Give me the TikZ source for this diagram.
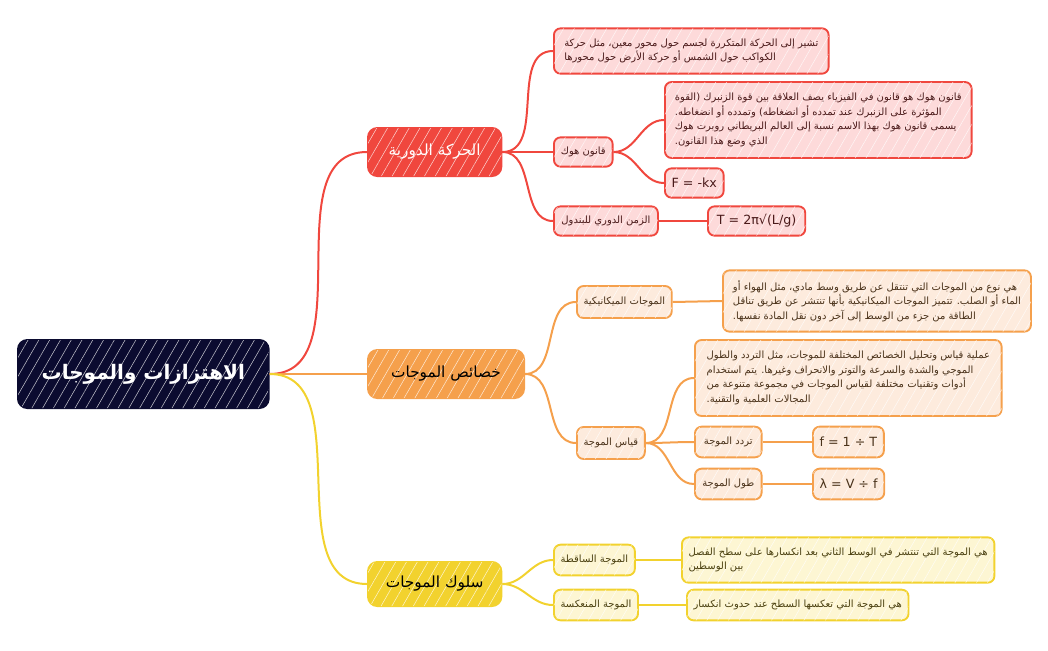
\documentclass[tikz,border=0pt]{standalone}
\usepackage{fontspec}
\setmainfont{DejaVu Sans}
\newfontfamily\arabicfont[Script=Arabic]{DejaVu Sans}
\TeXXeTstate=1
\usetikzlibrary{positioning, patterns.meta}

\definecolor{rootblue}{HTML}{0B0B30}
\definecolor{redmain}{HTML}{F0473E}
\definecolor{redlight}{HTML}{FDDADA}
\definecolor{redtext}{HTML}{4A1A1A}
\definecolor{orangemain}{HTML}{F5A04C}
\definecolor{orangelight}{HTML}{FDEBDD}
\definecolor{orangetext}{HTML}{4A321A}
\definecolor{yellowmain}{HTML}{F2D22E}
\definecolor{yellowlight}{HTML}{FDF6D3}
\definecolor{yellowtext}{HTML}{4A4010}

\newcommand{\artxt}[1]{{\arabicfont\beginR #1\endR}}

\tikzset{
  hatched/.style={postaction={pattern={Lines[angle=60,distance=7pt,line width=0.4pt]}, pattern color=white, opacity=0.75}},
  rootbox/.style={hatched, draw=rootblue, fill=rootblue, text=white, line width=1.5pt, rounded corners=7pt,
    anchor=west, minimum width=188pt, minimum height=51pt, font=\bfseries\fontsize{15}{18}\selectfont},
  mainbox/.style={hatched, line width=1.5pt, rounded corners=7pt, anchor=west, minimum height=36pt,
    font=\fontsize{11.5}{13}\selectfont},
  subbox/.style={hatched, line width=1.4pt, rounded corners=5pt, anchor=west, minimum height=22pt,
    inner xsep=5pt, font=\fontsize{7.5}{10}\selectfont},
  notebox/.style={subbox, align=left, inner ysep=5pt, font=\fontsize{7.5}{11}\selectfont},
  mathbox/.style={subbox, font=\fontsize{9.5}{11}\selectfont},
  redsub/.style={draw=redmain, fill=redlight, text=redtext},
  orangesub/.style={draw=orangemain, fill=orangelight, text=orangetext},
  yellowsub/.style={draw=yellowmain, fill=yellowlight, text=yellowtext},
  link/.style={line width=1.5pt}
}

\begin{document}
\begin{tikzpicture}[x=0.75pt,y=-0.75pt]
\useasboundingbox (0,0) rectangle (1048,650);

% centre
\node[rootbox] (root) at (17,374) {\artxt{الاهتزازات والموجات}};

% main topics
\node[mainbox, draw=redmain, fill=redmain, text=white, minimum width=100pt] (periodic) at (367,152) {\artxt{الحركة الدورية}};
\node[mainbox, draw=orangemain, fill=orangemain, text=black, minimum width=117pt] (props) at (367,374) {\artxt{خصائص الموجات}};
\node[mainbox, draw=yellowmain, fill=yellowmain, text=black, minimum width=100pt, minimum height=33pt] (behav) at (367,584) {\artxt{سلوك الموجات}};

% periodic motion
\node[notebox, redsub, minimum width=206pt, minimum height=34pt] (perdef) at (553,51) {\artxt{تشير إلى الحركة المتكررة لجسم حول محور معين، مثل حركة}\\\artxt{الكواكب حول الشمس أو حركة الأرض حول محورها}};
\node[subbox, redsub, minimum width=44pt] (hooke) at (553,152) {\artxt{قانون هوك}};
\node[notebox, redsub, minimum width=230pt, minimum height=57pt] (hookedef) at (664,120) {\artxt{قانون هوك هو قانون في الفيزياء يصف العلاقة بين قوة الزنبرك (القوة}\\\artxt{المؤثرة على الزنبرك عند تمدده أو انضغاطه) وتمدده أو انضغاطه.}\\\artxt{يسمى قانون هوك بهذا الاسم نسبة إلى العالم البريطاني روبرت هوك}\\\artxt{الذي وضع هذا القانون.}};
\node[mathbox, redsub, minimum width=42pt] (hookeeq) at (664,183) {F = -kx};
\node[subbox, redsub, minimum width=78pt] (pend) at (553,221) {\artxt{الزمن الدوري للبندول}};
\node[mathbox, redsub, minimum width=73pt] (pendeq) at (707,221) {T = 2π√(L/g)};

% wave properties
\node[subbox, orangesub, minimum width=71pt, minimum height=24pt] (mech) at (576,302) {\artxt{الموجات الميكانيكية}};
\node[notebox, orangesub, minimum width=231pt, minimum height=46pt] (mechdef) at (722,301) {\artxt{هي نوع من الموجات التي تنتقل عن طريق وسط مادي، مثل الهواء أو}\\\artxt{الماء أو الصلب. تتميز الموجات الميكانيكية بأنها تنتشر عن طريق تناقل}\\\artxt{الطاقة من جزء من الوسط إلى آخر دون نقل المادة نفسها.}};
\node[subbox, orangesub, minimum width=50pt, minimum height=24pt] (meas) at (576,443) {\artxt{قياس الموجة}};
\node[notebox, orangesub, minimum width=230pt, minimum height=57pt] (measdef) at (694,378) {\artxt{عملية قياس وتحليل الخصائص المختلفة للموجات، مثل التردد والطول}\\\artxt{الموجي والشدة والسرعة والتوتر والانحراف وغيرها. يتم استخدام}\\\artxt{أدوات وتقنيات مختلفة لقياس الموجات في مجموعة متنوعة من}\\\artxt{المجالات العلمية والتقنية.}};
\node[subbox, orangesub, minimum width=50pt, minimum height=23pt] (freq) at (694,442) {\artxt{تردد الموجة}};
\node[mathbox, orangesub, minimum width=43pt, minimum height=23pt] (freqeq) at (812,442) {f = 1 ÷ T};
\node[subbox, orangesub, minimum width=50pt, minimum height=23pt] (wlen) at (694,484) {\artxt{طول الموجة}};
\node[mathbox, orangesub, minimum width=43pt, minimum height=23pt] (wleneq) at (812,484) {λ = V ÷ f};

% wave behaviour
\node[subbox, yellowsub, minimum width=56pt, minimum height=23pt] (inc) at (553,560) {\artxt{الموجة الساقطة}};
\node[notebox, yellowsub, minimum width=232pt, minimum height=34pt] (incdef) at (681,560) {\artxt{هي الموجة التي تنتشر في الوسط الثاني بعد انكسارها على سطح الفصل}\\\artxt{بين الوسطين}};
\node[subbox, yellowsub, minimum width=59pt, minimum height=23pt] (refl) at (553,605) {\artxt{الموجة المنعكسة}};
\node[subbox, yellowsub, minimum width=165pt, minimum height=23pt] (refldef) at (686,605) {\artxt{هي الموجة التي تعكسها السطح عند حدوث انكسار}};

% links
\draw[link, redmain] (root.east) to[out=0,in=180] (periodic.west);
\draw[link, orangemain] (root.east) to[out=0,in=180] (props.west);
\draw[link, yellowmain] (root.east) to[out=0,in=180] (behav.west);

\draw[link, redmain] (periodic.east) to[out=0,in=180] (perdef.west);
\draw[link, redmain] (periodic.east) to[out=0,in=180] (hooke.west);
\draw[link, redmain] (periodic.east) to[out=0,in=180] (pend.west);
\draw[link, redmain] (hooke.east) to[out=0,in=180] (hookedef.west);
\draw[link, redmain] (hooke.east) to[out=0,in=180] (hookeeq.west);
\draw[link, redmain] (pend.east) -- (pendeq.west);

\draw[link, orangemain] (props.east) to[out=0,in=180] (mech.west);
\draw[link, orangemain] (props.east) to[out=0,in=180] (meas.west);
\draw[link, orangemain] (mech.east) -- (mechdef.west);
\draw[link, orangemain] (meas.east) to[out=0,in=180] (measdef.west);
\draw[link, orangemain] (meas.east) to[out=0,in=180] (freq.west);
\draw[link, orangemain] (meas.east) to[out=0,in=180] (wlen.west);
\draw[link, orangemain] (freq.east) -- (freqeq.west);
\draw[link, orangemain] (wlen.east) -- (wleneq.west);

\draw[link, yellowmain] (behav.east) to[out=0,in=180] (inc.west);
\draw[link, yellowmain] (behav.east) to[out=0,in=180] (refl.west);
\draw[link, yellowmain] (inc.east) -- (incdef.west);
\draw[link, yellowmain] (refl.east) -- (refldef.west);
\end{tikzpicture}
\end{document}
